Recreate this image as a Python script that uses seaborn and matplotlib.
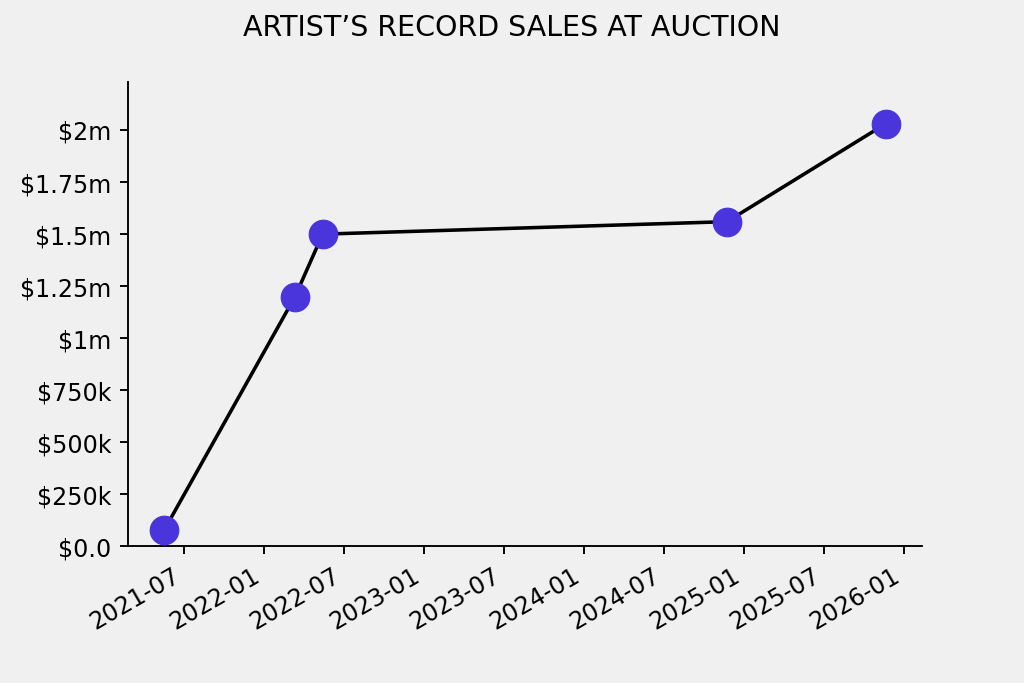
import pandas as pd
import matplotlib
matplotlib.use("Agg")
import matplotlib.pyplot as plt
import matplotlib.ticker as mticker
import seaborn as sns

# sale dates and prices
sale_dates = ["2021-05-17", "2022-03-12", "2022-05-14", "2024-11-22", "2025-11-19"]
sale_prices = [77000, 1200000, 1500000, 1560000, 2030000]

TITLE = "ARTIST\u2019S RECORD SALES AT AUCTION"
BG = "#f0f0f0"
DOT = "#4a34dc"
DPI = 1024 / 6


def money(x, pos):
    if x >= 1e6:
        return f"${x / 1e6:g}m"
    if x >= 1e3:
        return f"${x / 1e3:g}k"
    return f"${x:.1f}"


def main():

    df = pd.DataFrame({"date": pd.to_datetime(sale_dates), "price": sale_prices})

    fig, ax = plt.subplots(figsize=(1024 / DPI, 683.4 / DPI), dpi=DPI)
    fig.patch.set_facecolor(BG)
    ax.set_facecolor(BG)

    sns.lineplot(data=df, x="date", y="price", color="black", linewidth=1.5, ax=ax, zorder=2)
    sns.scatterplot(data=df, x="date", y="price", color=DOT, s=145, edgecolor=DOT,
                    linewidth=0.5, ax=ax, zorder=3)

    ax.set_ylim(0, max(sale_prices) * 1.1)
    ax.yaxis.set_major_locator(mticker.MultipleLocator(250000))
    ax.yaxis.set_major_formatter(mticker.FuncFormatter(money))
    ax.tick_params(labelsize=10)

    ax.set_xlabel("")
    ax.set_ylabel("")
    sns.despine(ax=ax)

    fig.autofmt_xdate()
    fig.suptitle(TITLE, fontsize=12)

    fig.savefig("out.png", dpi=DPI, facecolor=BG)


if __name__ == "__main__":
    main()
